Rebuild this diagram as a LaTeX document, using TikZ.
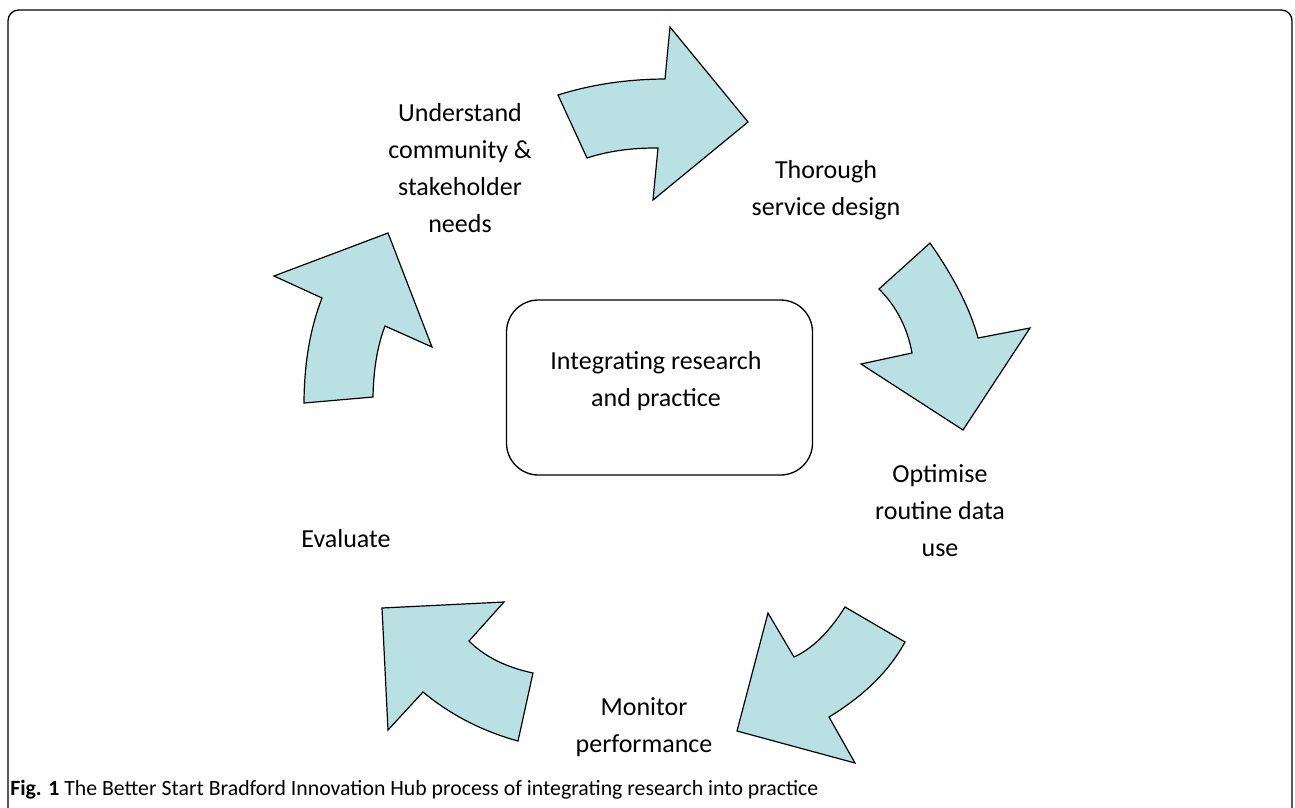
\documentclass[tikz,border=0pt]{standalone}
\usepackage{fontspec}
\setmainfont{Carlito}
\definecolor{arrowfill}{RGB}{185,224,227}
\begin{document}
\begin{tikzpicture}[x=0.75pt,y=-0.75pt,
  bigarrow/.style={draw=black,line width=0.9pt,fill=arrowfill,line join=miter},
  label/.style={align=center,font=\fontsize{19.5}{27.8}\selectfont,inner sep=0pt},
  frame/.style={draw=black,line width=1pt,rounded corners=8pt}]
\useasboundingbox (0,0) rectangle (1295,807);
\draw[frame] (8,10) rectangle (1292,820);
% center box
\node[draw=black,line width=1pt,rounded corners=24pt,minimum width=306*0.75pt,minimum height=175*0.75pt,inner sep=0pt] (center) at (659.5,387.5) {};
\node[label] (centertext) at (656,381) {Integrating research\\and practice};
% arrow 1 (top)
\draw[bigarrow] (558,95) .. controls (591.3,84.5) and (627,79.2) .. (665,79) -- (670,27) -- (748,122) -- (653,200) -- (658,148) .. controls (631.5,147.8) and (607.9,151.1) .. (587,158) -- cycle;
% arrow 2 (right)
\draw[bigarrow] (930,243) .. controls (954.4,278) and (970.5,309.7) .. (978,338) -- (1030,328) -- (963,430) -- (861,364) -- (912,353) .. controls (907.5,327.9) and (896.5,306.5) .. (879,289) -- cycle;
% arrow 3 (bottom right)
\draw[bigarrow] (845,607) -- (905,642) .. controls (889.3,670.8) and (864,695.8) .. (829,717) -- (855,763) -- (737,731) -- (768,613) -- (794,657) .. controls (812.1,648.9) and (829.1,632.2) .. cycle;
% arrow 4 (bottom left)
\draw[bigarrow] (533,673) -- (518,741) .. controls (482.1,731.1) and (450.4,714.8) .. (423,692) -- (388,730) -- (382,608) -- (504,602) -- (469,641) .. controls (484.6,656.6) and (505.9,667.3) .. cycle;
% arrow 5 (left)
\draw[bigarrow] (304,403) -- (373,397) .. controls (373.5,369.2) and (377.5,345.5) .. (385,326) -- (432,347) -- (388,233) -- (274,276) -- (322,298) .. controls (310.2,328.2) and (304.2,363.2) .. cycle;
% labels
\node[label] (understand) at (460,168) {Understand\\community \&\\stakeholder\\needs};
\node[label] (design) at (826,190) {Thorough\\service design};
\node[label] (optimise) at (940,511) {Optimise\\routine data\\use};
\node[label] (monitor) at (644,727) {Monitor\\performance};
\node[label] (evaluate) at (346,539) {Evaluate};
\node[anchor=west,inner sep=0pt] (caption) at (10,790) {\resizebox{606pt}{!}{\textbf{Fig. 1} The Better Start Bradford Innovation Hub process of integrating research into practice}};
\end{tikzpicture}
\end{document}
